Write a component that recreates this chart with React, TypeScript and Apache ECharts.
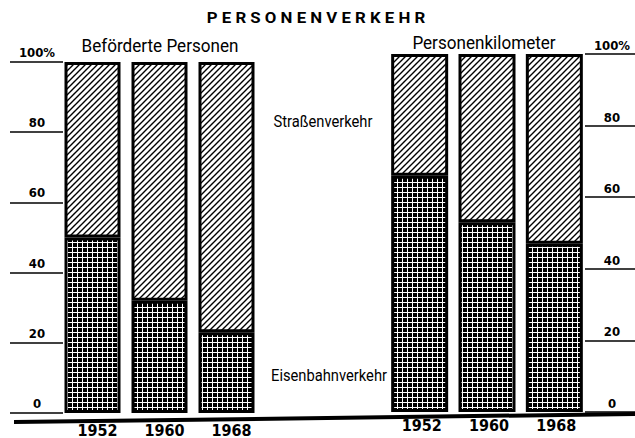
import React, { useEffect, useRef } from 'react';
import * as echarts from 'echarts';

const years = ['1952', '1960', '1968'];
const railPassengers = [50, 32, 23];
const roadPassengers = [50, 68, 77];
const railKm = [66, 53, 47];
const roadKm = [34, 47, 53];

const titleText = 'P E R S O N E N V E R K E H R';
const leftTitle = 'Beförderte Personen';
const rightTitle = 'Personenkilometer';
const roadLabel = 'Straßenverkehr';
const railLabel = 'Eisenbahnverkehr';

const FONT = "'DejaVu Sans Condensed', 'Liberation Sans Narrow', Roboto, sans-serif";

function makeHatch() {
  const s = 6;
  const c = document.createElement('canvas');
  c.width = s;
  c.height = s;
  const ctx = c.getContext('2d')!;
  ctx.fillStyle = '#fff';
  ctx.fillRect(0, 0, s, s);
  ctx.strokeStyle = '#000';
  ctx.lineWidth = 1.4;
  ctx.beginPath();
  ctx.moveTo(-1, s + 1);
  ctx.lineTo(s + 1, -1);
  ctx.moveTo(-1, 1);
  ctx.lineTo(1, -1);
  ctx.moveTo(s - 1, s + 1);
  ctx.lineTo(s + 1, s - 1);
  ctx.stroke();
  return c;
}

function makeGrid() {
  const s = 5;
  const c = document.createElement('canvas');
  c.width = s;
  c.height = s;
  const ctx = c.getContext('2d')!;
  ctx.fillStyle = '#000';
  ctx.fillRect(0, 0, s, s);
  ctx.fillStyle = '#fff';
  ctx.fillRect(0, 2, s, 1);
  ctx.fillRect(2, 0, 1, s);
  return c;
}

export default function App() {
  const ref = useRef<HTMLDivElement>(null);
  useEffect(() => {
    if (!ref.current) return;
    const chart = echarts.init(ref.current, undefined, { renderer: 'svg' });
    const hatch = { image: makeHatch(), repeat: 'repeat', imageWidth: 6, imageHeight: 6 };
    const gridPat = { image: makeGrid(), repeat: 'repeat', imageWidth: 5, imageHeight: 5 };
    const tickLabel = (v: number) => (v === 100 ? '100%' : String(v));
    const labelStyle = {
      color: '#000',
      fontFamily: FONT,
      fontSize: 13,
      fontWeight: 'bold' as const,
    };
    const barStyle = (color: any) => ({ color, borderColor: '#000', borderWidth: 3 });
    const textEl = (x: number, y: number, text: string, size: number, scaleX: number, bold = false) => ({
      type: 'text',
      x,
      y,
      scaleX,
      style: {
        text,
        font: `${bold ? 'bold ' : ''}${size}px Roboto, sans-serif`,
        fill: '#000',
        textAlign: 'center',
        textVerticalAlign: 'middle',
      },
    });

    chart.setOption({
      animation: false,
      backgroundColor: '#fff',
      grid: [
        { left: 59, top: 62, width: 201, height: 358 },
        { left: 386, top: 54, width: 202, height: 358 },
      ],
      xAxis: [
        {
          gridIndex: 0,
          type: 'category',
          data: years,
          axisLine: { show: false },
          axisTick: { show: false },
          axisLabel: { ...labelStyle, fontSize: 16, margin: 9, padding: [0, 0, 0, 10] },
        },
        {
          gridIndex: 1,
          type: 'category',
          data: years,
          axisLine: { show: false },
          axisTick: { show: false },
          axisLabel: { ...labelStyle, fontSize: 16, margin: 5, padding: [0, 0, 0, 4] },
        },
      ],
      yAxis: [
        {
          gridIndex: 0,
          type: 'value',
          min: 0,
          max: 100,
          interval: 20,
          position: 'left',
          offset: -4,
          axisLine: { show: false },
          axisTick: { show: true, inside: false, length: 53, lineStyle: { color: '#000', width: 1.5 } },
          splitLine: { show: false },
          axisLabel: {
            ...labelStyle,
            formatter: tickLabel,
            margin: 26,
            align: 'center',
            verticalAlign: 'bottom',
            padding: [0, 0, 3, 0],
          },
        },
        {
          gridIndex: 1,
          type: 'value',
          min: 0,
          max: 100,
          interval: 20,
          position: 'right',
          offset: -3,
          axisLine: { show: false },
          axisTick: { show: true, inside: false, length: 50, lineStyle: { color: '#000', width: 1.5 } },
          splitLine: { show: false },
          axisLabel: {
            ...labelStyle,
            formatter: tickLabel,
            margin: 27,
            align: 'center',
            verticalAlign: 'bottom',
            padding: [0, 0, 2, 0],
          },
        },
      ],
      series: [
        {
          name: railLabel,
          type: 'bar',
          stack: 'left',
          xAxisIndex: 0,
          yAxisIndex: 0,
          barWidth: 56,
          data: railPassengers,
          itemStyle: barStyle(gridPat),
        },
        {
          name: roadLabel,
          type: 'bar',
          stack: 'left',
          xAxisIndex: 0,
          yAxisIndex: 0,
          barWidth: 56,
          data: roadPassengers,
          itemStyle: barStyle(hatch),
        },
        {
          name: railLabel,
          type: 'bar',
          stack: 'right',
          xAxisIndex: 1,
          yAxisIndex: 1,
          barWidth: 57,
          data: railKm,
          itemStyle: barStyle(gridPat),
        },
        {
          name: roadLabel,
          type: 'bar',
          stack: 'right',
          xAxisIndex: 1,
          yAxisIndex: 1,
          barWidth: 57,
          data: roadKm,
          itemStyle: barStyle(hatch),
        },
      ],
      graphic: [
        {
          type: 'line',
          shape: { x1: 14, y1: 422, x2: 635, y2: 414 },
          style: { stroke: '#000', lineWidth: 4 },
          z: 10,
        },
        textEl(316, 18, titleText, 14, 1.2, true),
        textEl(160, 46, leftTitle, 18, 0.95),
        textEl(484, 43, rightTitle, 18, 0.95),
        textEl(323, 122, roadLabel, 16, 0.92),
        textEl(329, 376, railLabel, 16, 0.92),
      ],
    });
    return () => chart.dispose();
  }, []);
  return <div ref={ref} style={{ width: 635, height: 438, position: 'absolute', left: 0, top: 0 }} />;
}
